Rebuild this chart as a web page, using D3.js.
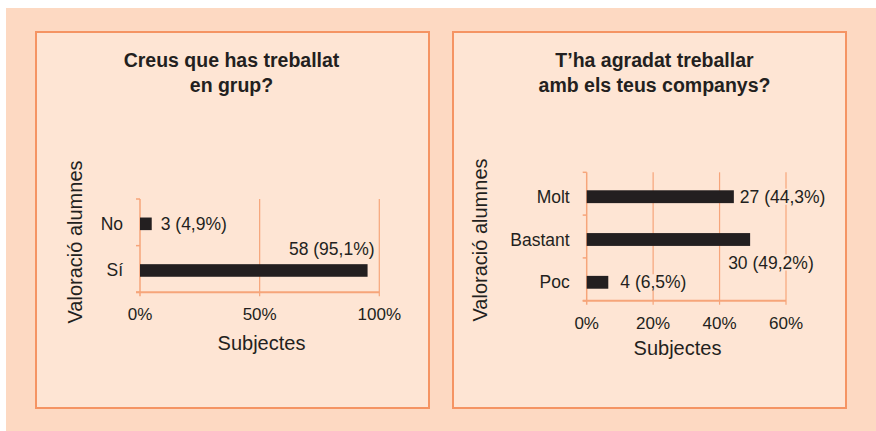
<!DOCTYPE html>
<html>
<head>
<meta charset="utf-8">
<script src="https://cdn.jsdelivr.net/npm/d3@7"></script>
<style>
  body { margin: 0; background: #ffffff; }
  text { font-family: "Liberation Sans", Arial, sans-serif; fill: #231f20; }
</style>
</head>
<body>
<script>
// dades llegides del gràfic
var titol1 = ["Creus que has treballat", "en grup?"];
var cats1 = ["No", "Sí"];
var pct1 = [4.9, 95.1];
var n1 = [3, 58];
var ticks1 = [0, 50, 100];

var titol2 = ["T\u2019ha agradat treballar", "amb els teus companys?"];
var cats2 = ["Molt", "Bastant", "Poc"];
var pct2 = [44.3, 49.2, 6.5];
var n2 = [27, 30, 4];
var ticks2 = [0, 20, 40, 60];

var xTitle = "Subjectes";
var yTitle = "Valoració alumnes";

var W = 876, H = 431;
var ORANGE = "#f59463", GRID = "#f6a57a", PANEL = "#fee5d4", OUTER = "#fdd9c2", INK = "#231f20";

var svg = d3.select("body").append("svg")
    .attr("width", W)
    .attr("height", H);

svg.append("rect")
    .attr("x", 6).attr("y", 8)
    .attr("width", W - 6).attr("height", H - 8)
    .attr("fill", OUTER);

function fmt(v) { return String(v).replace(".", ","); }

function panell(cfg) {
  var g = svg.append("g");

  g.append("rect")
      .attr("x", cfg.box[0]).attr("y", cfg.box[1])
      .attr("width", cfg.box[2]).attr("height", cfg.box[3])
      .attr("fill", PANEL)
      .attr("stroke", ORANGE)
      .attr("stroke-width", 2);

  // titol
  var cx = cfg.box[0] + cfg.box[2] / 2 + cfg.titleDx;
  cfg.titol.forEach(function(t, i) {
    g.append("text")
        .attr("x", cx)
        .attr("y", 67 + i * 25)
        .attr("text-anchor", "middle")
        .style("font-size", "19.5px")
        .style("font-weight", "bold")
        .text(t);
  });

  var x = d3.scaleLinear().domain([0, cfg.ticks[cfg.ticks.length - 1]]).range(cfg.xr);
  var y = d3.scaleBand().domain(cfg.cats).range(cfg.yr).padding(0);
  var y0 = cfg.yr[0], y1 = cfg.yr[1];

  // linies de graella
  g.selectAll(".grid")
      .data(cfg.ticks.slice(1))
      .enter().append("line")
      .attr("x1", function(d) { return x(d); })
      .attr("x2", function(d) { return x(d); })
      .attr("y1", y0)
      .attr("y2", y1 + 4)
      .attr("stroke", GRID)
      .attr("stroke-width", 1.2);

  // eix y
  g.append("line")
      .attr("x1", x(0)).attr("x2", x(0))
      .attr("y1", y0).attr("y2", y1 + 4)
      .attr("stroke", GRID).attr("stroke-width", 1.5);

  var bordes = cfg.cats.map(function(c) { return y(c); }).concat([y1]);
  g.selectAll(".ytick")
      .data(bordes)
      .enter().append("line")
      .attr("x1", x(0) - 4).attr("x2", x(0))
      .attr("y1", function(d) { return d; })
      .attr("y2", function(d) { return d; })
      .attr("stroke", GRID).attr("stroke-width", 1.5);

  // eix x
  g.append("line")
      .attr("x1", x(0) - 4).attr("x2", x.range()[1])
      .attr("y1", y1).attr("y2", y1)
      .attr("stroke", GRID).attr("stroke-width", 2);

  g.selectAll(".xlab")
      .data(cfg.ticks)
      .enter().append("text")
      .attr("x", function(d) { return x(d); })
      .attr("y", y1 + 28)
      .attr("text-anchor", "middle")
      .style("font-size", "17px")
      .text(function(d) { return d + "%"; });

  // etiquetes de valor (amb fons per tapar la graella)
  cfg.cats.forEach(function(c, i) {
    var pos = cfg.lab[i];
    var yc = y(c) + y.bandwidth() / 2 + cfg.barDy;
    var t = g.append("text")
        .attr("x", x(cfg.pct[i]) + pos.dx)
        .attr("y", yc + 6 + pos.dy)
        .attr("text-anchor", pos.anchor)
        .style("font-size", "17.5px")
        .text(cfg.n[i] + " (" + fmt(cfg.pct[i]) + "%)");
    var bb = t.node().getBBox();
    g.insert("rect", function() { return t.node(); })
        .attr("x", bb.x - 1).attr("y", bb.y + 2)
        .attr("width", bb.width + 2).attr("height", bb.height - 4)
        .attr("fill", PANEL);
  });

  // barres
  var bh = y.bandwidth() * cfg.barFrac;
  g.selectAll(".bar")
      .data(cfg.cats)
      .enter().append("rect")
      .attr("x", x(0))
      .attr("y", function(d) { return y(d) + y.bandwidth() / 2 - bh / 2 + cfg.barDy; })
      .attr("width", function(d, i) { return x(cfg.pct[i]) - x(0); })
      .attr("height", bh)
      .attr("fill", INK);

  // categories
  g.selectAll(".cat")
      .data(cfg.cats)
      .enter().append("text")
      .attr("x", x(0) - 17)
      .attr("y", function(d) { return y(d) + y.bandwidth() / 2 + cfg.barDy + 6; })
      .attr("text-anchor", "end")
      .style("font-size", "17.5px")
      .text(function(d) { return d; });

  // titols d'eixos
  g.append("text")
      .attr("x", cfg.xTitlePos[0])
      .attr("y", cfg.xTitlePos[1])
      .attr("text-anchor", "middle")
      .style("font-size", "20px")
      .text(xTitle);

  g.append("text")
      .attr("transform", "translate(" + cfg.yTitlePos[0] + "," + cfg.yTitlePos[1] + ") rotate(-90)")
      .attr("text-anchor", "middle")
      .style("font-size", "20px")
      .text(yTitle);
}

panell({
  box: [36, 32, 393, 376],
  titol: titol1, titleDx: -1,
  cats: cats1, pct: pct1, n: n1, ticks: ticks1,
  xr: [140, 379.3], yr: [199, 292.3],
  barFrac: 0.27, barDy: 1.5,
  lab: [{anchor: "start", dx: 9, dy: 0}, {anchor: "end", dx: 7, dy: -21}],
  xTitlePos: [261.5, 350], yTitlePos: [82, 242]
});

panell({
  box: [453, 32, 393, 376],
  titol: titol2, titleDx: 5,
  cats: cats2, pct: pct2, n: n2, ticks: ticks2,
  xr: [586.7, 786], yr: [172.3, 300.7],
  barFrac: 0.3, barDy: 3,
  lab: [{anchor: "start", dx: 6, dy: 0}, {anchor: "start", dx: -22, dy: 23}, {anchor: "start", dx: 12, dy: 0}],
  xTitlePos: [677.5, 355], yTitlePos: [487, 240]
});
</script>
</body>
</html>
